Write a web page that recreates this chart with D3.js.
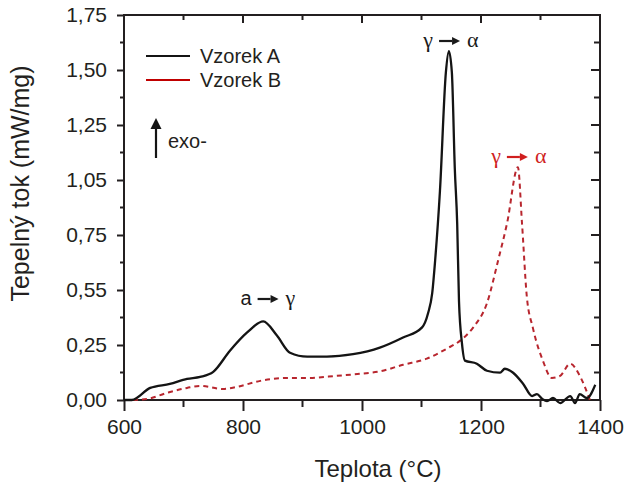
<!DOCTYPE html>
<html>
<head>
<meta charset="utf-8">
<script src="https://cdn.jsdelivr.net/npm/d3@7"></script>
<style>
  body { margin: 0; background: #fff; }
  svg { display: block; font-family: "Liberation Sans", Arial, sans-serif; }
</style>
</head>
<body>
<svg id="chart" width="630" height="489"></svg>
<script>
// Vzorek A (solid black) - teplota, tepelny tok
const tempA = [600, 613, 644, 677, 706, 728, 750, 778, 807, 834, 857, 879, 908, 941, 985, 1030, 1069, 1101, 1111, 1118, 1123, 1131, 1141, 1146, 1151, 1156, 1160, 1163, 1168, 1173, 1193, 1210, 1232, 1240, 1254, 1271, 1286, 1294, 1303, 1311, 1321, 1333, 1350, 1358, 1366, 1378, 1392];
const flowA = [0.0, 0.0, 0.055, 0.073, 0.096, 0.105, 0.128, 0.224, 0.307, 0.357, 0.293, 0.215, 0.197, 0.197, 0.208, 0.238, 0.284, 0.330, 0.394, 0.486, 0.637, 0.95, 1.49, 1.586, 1.49, 1.05, 0.80, 0.45, 0.257, 0.179, 0.165, 0.133, 0.124, 0.142, 0.124, 0.073, 0.018, 0.027, 0.005, -0.005, 0.009, -0.014, 0.018, -0.014, 0.027, 0.009, 0.069];

// Vzorek B (dashed red)
const tempB = [600, 613, 639, 672, 706, 728, 766, 790, 829, 874, 908, 958, 1000, 1030, 1069, 1109, 1143, 1165, 1187, 1210, 1229, 1244, 1262, 1269, 1277, 1287, 1304, 1319, 1333, 1350, 1366, 1383];
const flowB = [0.0, 0.0, 0.005, 0.032, 0.055, 0.064, 0.05, 0.06, 0.087, 0.10, 0.10, 0.11, 0.12, 0.13, 0.16, 0.188, 0.234, 0.27, 0.33, 0.44, 0.637, 0.806, 1.058, 0.80, 0.47, 0.33, 0.179, 0.10, 0.11, 0.165, 0.11, 0.0];

const xTicks = [600, 800, 1000, 1200, 1400];
const xMinor = [700, 900, 1100, 1300];
const yTickLabels = ["0,00", "0,25", "0,55", "0,75", "1,05", "1,25", "1,50", "1,75"];
const seriesNames = ["Vzorek A", "Vzorek B"];

const svg = d3.select("#chart");
const pLeft = 124, pRight = 600, pTop = 15, pBottom = 400;

const x = d3.scaleLinear().domain([600, 1400]).range([pLeft, pRight]);
const y = d3.scaleLinear().domain([0, 1.75]).range([pBottom, pTop]);

const yMajor = yTickLabels.map((d, i) => i * 0.25);
const yMinor = d3.range(7).map(i => i * 0.25 + 0.125);
const axisColor = "#231f20";

// frame
svg.append("rect")
    .attr("x", pLeft).attr("y", pTop)
    .attr("width", pRight - pLeft).attr("height", pBottom - pTop)
    .attr("fill", "none")
    .attr("stroke", axisColor)
    .attr("stroke-width", 2);

// left axis
const yAxis = svg.append("g")
    .attr("transform", `translate(${pLeft},0)`)
    .call(d3.axisLeft(y).tickValues(yMajor).tickSize(7).tickPadding(10)
        .tickFormat((d, i) => yTickLabels[i]));
yAxis.select(".domain").remove();
yAxis.selectAll("line").attr("stroke", axisColor).attr("stroke-width", 2);
yAxis.selectAll("text").attr("font-size", 21).attr("fill", axisColor)
    .attr("font-family", "Liberation Sans, Arial, sans-serif");

svg.append("g").selectAll("line")
    .data(yMinor)
    .join("line")
    .attr("x1", pLeft - 4).attr("x2", pLeft)
    .attr("y1", d => y(d)).attr("y2", d => y(d))
    .attr("stroke", axisColor).attr("stroke-width", 2);

// right inner ticks
svg.append("g").selectAll("line")
    .data(yMajor.concat(yMinor))
    .join("line")
    .attr("x1", d => pRight - (yMajor.includes(d) ? 9 : 6)).attr("x2", pRight)
    .attr("y1", d => y(d)).attr("y2", d => y(d))
    .attr("stroke", axisColor).attr("stroke-width", 2);

// bottom axis
const xAxis = svg.append("g")
    .attr("transform", `translate(0,${pBottom})`)
    .call(d3.axisBottom(x).tickValues(xTicks).tickSize(11).tickPadding(8).tickFormat(d3.format("d")));
xAxis.select(".domain").remove();
xAxis.selectAll("line").attr("stroke", axisColor).attr("stroke-width", 2);
xAxis.selectAll("text").attr("font-size", 21).attr("fill", axisColor)
    .attr("font-family", "Liberation Sans, Arial, sans-serif");

svg.append("g").selectAll("line")
    .data(xMinor)
    .join("line")
    .attr("x1", d => x(d)).attr("x2", d => x(d))
    .attr("y1", pBottom).attr("y2", pBottom + 7)
    .attr("stroke", axisColor).attr("stroke-width", 2);

// top inner ticks
svg.append("g").selectAll("line")
    .data(xTicks.concat(xMinor))
    .join("line")
    .attr("x1", d => x(d)).attr("x2", d => x(d))
    .attr("y1", pTop).attr("y2", d => pTop + (xTicks.includes(d) ? 8 : 5))
    .attr("stroke", axisColor).attr("stroke-width", 2);

// axis titles
svg.append("text")
    .attr("x", (pLeft + pRight) / 2 + 16).attr("y", 477)
    .attr("text-anchor", "middle")
    .attr("font-size", 24)
    .attr("fill", axisColor)
    .text("Teplota (°C)");

svg.append("text")
    .attr("transform", `translate(29,${(pTop + pBottom) / 2 - 24}) rotate(-90)`)
    .attr("text-anchor", "middle")
    .attr("font-size", 25)
    .attr("fill", axisColor)
    .text("Tepelný tok (mW/mg)");

// lines
const line = d3.line()
    .x(d => x(d[0]))
    .y(d => y(d[1]))
    .curve(d3.curveMonotoneX);

svg.append("path")
    .datum(d3.zip(tempB, flowB))
    .attr("d", line)
    .attr("fill", "none")
    .attr("stroke", "#b8262e")
    .attr("stroke-width", 2)
    .attr("stroke-dasharray", "5,4");

svg.append("path")
    .datum(d3.zip(tempA, flowA))
    .attr("d", line)
    .attr("fill", "none")
    .attr("stroke", "#141414")
    .attr("stroke-width", 2.3);

// legend
const legendColors = ["#141414", "#c00000"];
const legend = svg.append("g");
seriesNames.forEach((name, i) => {
    let yy = 56 + i * 24;
    legend.append("line")
        .attr("x1", 146).attr("x2", 190)
        .attr("y1", yy).attr("y2", yy)
        .attr("stroke", legendColors[i]).attr("stroke-width", 2);
    legend.append("text")
        .attr("x", 200).attr("y", yy + 7)
        .attr("font-size", 20)
        .attr("fill", axisColor)
        .text(name);
});

// arrow helper
function arrow(g, x1, y1, x2, y2, color, head) {
    let ang = Math.atan2(y2 - y1, x2 - x1);
    let bx = x2 - head * Math.cos(ang), by = y2 - head * Math.sin(ang);
    let w = head * 0.5;
    g.append("line")
        .attr("x1", x1).attr("y1", y1).attr("x2", bx).attr("y2", by)
        .attr("stroke", color).attr("stroke-width", 2.2);
    g.append("path")
        .attr("d", `M${x2},${y2}L${bx - w * Math.sin(ang)},${by + w * Math.cos(ang)}L${bx + w * Math.sin(ang)},${by - w * Math.cos(ang)}Z`)
        .attr("fill", color);
}

const ann = svg.append("g");
arrow(ann, 156, 158, 156, 118, "#141414", 11);
ann.append("text").attr("x", 168).attr("y", 148).attr("font-size", 20)
    .attr("fill", axisColor).text("exo-");

// transformation labels
function transition(g, cx, by, from, to, color, fromSerif) {
    g.append("text").attr("x", cx - 17).attr("y", by)
        .attr("text-anchor", "end")
        .attr("font-size", fromSerif ? 22 : 20)
        .attr("font-family", fromSerif ? "Liberation Serif, serif" : "Liberation Sans, sans-serif")
        .attr("fill", color).text(from);
    arrow(g, cx - 11, by - 6, cx + 10, by - 6, color, 8);
    g.append("text").attr("x", cx + 17).attr("y", by)
        .attr("font-size", 22)
        .attr("font-family", "Liberation Serif, serif")
        .attr("fill", color).text(to);
}

transition(ann, x(843), 305, "a", "γ", "#1a1a1a", false);
transition(ann, x(1148), 47, "γ", "α", "#1a1a1a", true);
transition(ann, x(1262), 163, "γ", "α", "#d01f1f", true);
</script>
</body>
</html>
